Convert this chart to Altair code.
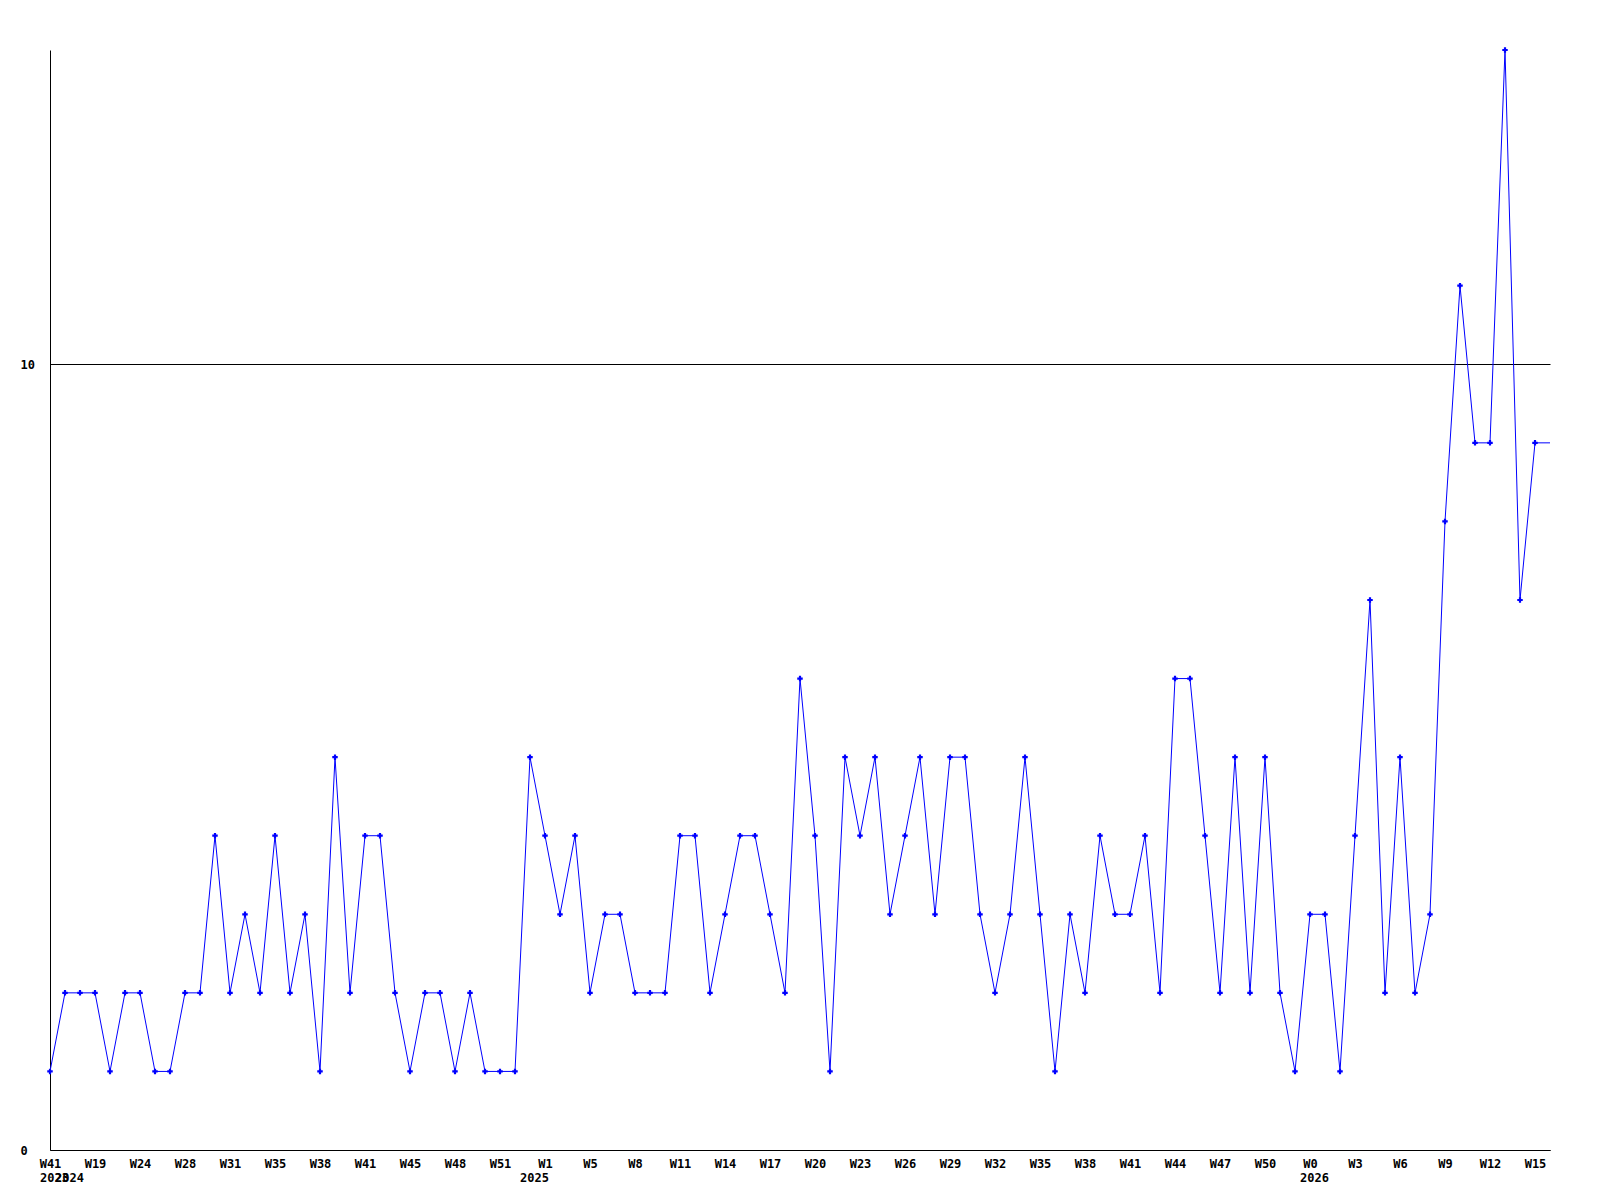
import altair as alt
import pandas as pd

# weekly counts, one per x position (index 0..100)
values = [
    1, 2, 2, 2, 1, 2, 2, 1, 1, 2,
    2, 4, 2, 3, 2, 4, 2, 3, 1, 5,
    2, 4, 4, 2, 1, 2, 2, 1, 2, 1,
    1, 1, 5, 4, 3, 4, 2, 3, 3, 2,
    2, 2, 4, 4, 2, 3, 4, 4, 3, 2,
    6, 4, 1, 5, 4, 5, 3, 4, 5, 3,
    5, 5, 3, 2, 3, 5, 3, 1, 3, 2,
    4, 3, 3, 4, 2, 6, 6, 4, 2, 5,
    2, 5, 2, 1, 3, 3, 1, 4, 7, 2,
    5, 2, 3, 8, 11, 9, 9, 14, 7, 9,
    9,
]

# week tick labels, every 3rd position
week_labels = [
    "W41", "W19", "W24", "W28", "W31", "W35", "W38", "W41", "W45", "W48",
    "W51", "W1", "W5", "W8", "W11", "W14", "W17", "W20", "W23", "W26",
    "W29", "W32", "W35", "W38", "W41", "W44", "W47", "W50", "W0", "W3",
    "W6", "W9", "W12", "W15",
]
week_tick_idx = [3 * i for i in range(len(week_labels))]

# year labels and the position where each year starts
years = ["2023", "2024", "2025", "2026"]
year_idx = [0, 1, 32, 84]

y_ticks = [0, 10]

FONT = "DejaVu Sans Mono"
BLUE = "#0000ff"

df = pd.DataFrame({"idx": list(range(len(values))), "value": values})
df_marks = df[df["idx"] < len(values) - 1]
year_df = pd.DataFrame({"idx": year_idx, "year": years})

label_expr = "[" + ",".join(f"'{w}'" for w in week_labels) + "][round(datum.value/3)]"

x_scale = alt.Scale(domain=[0, len(values) - 1], nice=False, zero=False)
y_scale = alt.Scale(domain=[0, 14], nice=False)

x_axis = alt.Axis(
    values=week_tick_idx,
    labelExpr=label_expr,
    title=None,
    grid=False,
    ticks=False,
    tickSize=0,
    labelPadding=17,
    labelBaseline="alphabetic",
    labelOverlap=False,
    labelFlush=False,
    labelFont=FONT,
    labelFontSize=12,
    labelFontWeight="bold",
    labelColor="black",
    domainColor="black",
    domainWidth=1,
)

y_axis = alt.Axis(
    values=y_ticks,
    format="d",
    title=None,
    grid=True,
    gridColor="black",
    gridOpacity=1,
    gridWidth=1,
    ticks=False,
    tickSize=0,
    labelAlign="left",
    labelBaseline="middle",
    labelPadding=30,
    labelFont=FONT,
    labelFontSize=12,
    labelFontWeight="bold",
    labelColor="black",
    domainColor="black",
    domainWidth=1,
)

line = alt.Chart(df).mark_line(color=BLUE, strokeWidth=1).encode(
    x=alt.X("idx:Q", scale=x_scale, axis=x_axis),
    y=alt.Y("value:Q", scale=y_scale, axis=y_axis),
)

points = alt.Chart(df_marks).mark_point(
    shape="cross", filled=True, size=30, color=BLUE, opacity=1
).encode(
    x=alt.X("idx:Q", scale=x_scale),
    y=alt.Y("value:Q", scale=y_scale),
)

year_text = alt.Chart(year_df).mark_text(
    align="left",
    baseline="alphabetic",
    dx=-10,
    font=FONT,
    fontSize=12,
    fontWeight="bold",
    color="black",
).encode(
    x=alt.X("idx:Q", scale=x_scale),
    y=alt.value(1132),
    text="year:N",
)

chart = (
    alt.layer(line, points, year_text)
    .properties(
        width=1500,
        height=1100,
        padding={"left": 42, "top": 42, "right": 10, "bottom": 42},
        autosize=alt.AutoSizeParams(type="none"),
        background="white",
    )
    .configure_view(strokeWidth=0)
)

chart.save("out.html", embed_options={"renderer": "svg", "actions": False})
